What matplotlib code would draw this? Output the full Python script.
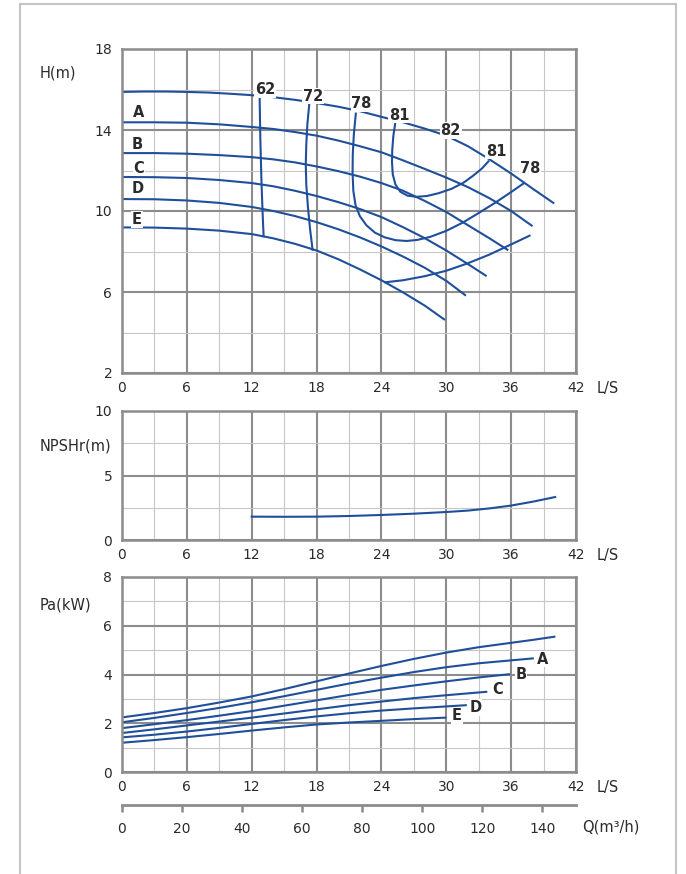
import numpy as np
import matplotlib
matplotlib.use("Agg")
import matplotlib.pyplot as plt
from matplotlib.lines import Line2D

# ---- data ----
# head curves, Q in L/s
q_top = [0, 2, 4, 6, 8, 10, 12, 14, 16, 18, 20, 22, 24, 26, 28, 30, 32, 34, 36, 38, 39.9]
h_top = [15.88, 15.9, 15.9, 15.88, 15.85, 15.79, 15.72, 15.62, 15.49, 15.33, 15.15, 14.93, 14.65,
         14.38, 14.07, 13.72, 13.2, 12.55, 11.85, 11.1, 10.4]
q_a = [0, 3, 6, 9, 12, 14, 16, 18, 20, 22, 24, 26, 28, 30, 32, 34, 36, 37.9]
h_a = [14.38, 14.38, 14.36, 14.28, 14.15, 14.05, 13.9, 13.72, 13.48, 13.2, 12.9, 12.5, 12.08,
       11.65, 11.18, 10.63, 10.0, 9.28]
q_b = [0, 3, 6, 9, 12, 14, 16, 18, 20, 22, 24, 26, 28, 30, 32, 34, 35.65]
h_b = [12.86, 12.86, 12.83, 12.76, 12.66, 12.55, 12.4, 12.2, 11.97, 11.7, 11.38, 11.0, 10.5,
       9.95, 9.3, 8.65, 8.09]
q_c = [0, 3, 6, 9, 12, 14, 16, 18, 20, 22, 24, 26, 28, 30, 32, 33.65]
h_c = [11.68, 11.67, 11.63, 11.53, 11.38, 11.22, 11.0, 10.74, 10.44, 10.1, 9.7, 9.2, 8.66,
       8.05, 7.38, 6.81]
q_d = [0, 3, 6, 9, 12, 14, 16, 18, 20, 22, 24, 26, 28, 30, 31.74]
h_d = [10.59, 10.58, 10.52, 10.4, 10.2, 10.0, 9.75, 9.45, 9.1, 8.7, 8.25, 7.75, 7.2, 6.55, 5.85]
q_e = [0, 3, 6, 9, 12, 14, 16, 18, 20, 22, 24, 26, 28, 29.8]
h_e = [9.19, 9.18, 9.13, 9.03, 8.86, 8.65, 8.38, 8.05, 7.62, 7.12, 6.58, 5.98, 5.33, 4.65]

head_names = ["A", "B", "C", "D", "E"]
head_q = [q_top, q_a, q_b, q_c, q_d, q_e]
head_h = [h_top, h_a, h_b, h_c, h_d, h_e]
head_lab_q = [1.54, 1.45, 1.54, 1.45, 1.39]
head_lab_h = [14.87, 13.3, 12.12, 11.1, 9.57]

# efficiency iso-curves
eff_q = [
    [12.73, 12.8, 12.9, 13.0, 13.1],
    [17.32, 17.15, 17.05, 17.0, 17.05, 17.2, 17.4, 17.63],
    [21.63, 21.45, 21.35, 21.33, 21.4, 21.6, 22.0, 22.6, 23.4, 24.3, 25.3, 26.3, 27.3, 28.5,
     30.0, 31.5, 33.0, 34.5, 35.9, 37.2],
    [25.27, 25.1, 25.0, 24.98, 25.05, 25.3, 25.75, 26.4, 27.2, 28.2, 29.3, 30.5, 31.6, 32.5,
     33.3, 33.9],
    [24.35, 26.0, 28.0, 30.0, 32.0, 34.0, 36.0, 37.7],
]
eff_h = [
    [15.65, 13.5, 11.5, 10.0, 8.75],
    [15.25, 14.3, 13.3, 12.3, 11.3, 10.2, 9.1, 8.09],
    [14.81, 13.8, 12.8, 11.9, 11.0, 10.3, 9.75, 9.3, 8.93, 8.7, 8.56, 8.52, 8.57, 8.72,
     9.02, 9.42, 9.9, 10.4, 10.9, 11.38],
    [14.31, 13.7, 13.0, 12.4, 11.8, 11.3, 10.95, 10.76, 10.7, 10.74, 10.88, 11.1, 11.4, 11.75,
     12.1, 12.45],
    [6.48, 6.58, 6.78, 7.05, 7.42, 7.85, 8.35, 8.78],
]
eff_labels = ["62", "72", "78", "81", "82", "81", "78"]
eff_lab_q = [13.23, 17.65, 22.17, 25.65, 30.4, 34.6, 37.75]
eff_lab_h = [16.0, 15.67, 15.29, 14.73, 13.97, 12.95, 12.12]

# NPSHr
q_npsh = [12, 15, 18, 21, 24, 27, 30, 32, 34, 36, 38, 40.07]
npsh = [1.81, 1.8, 1.81, 1.86, 1.94, 2.04, 2.17, 2.28, 2.45, 2.67, 2.97, 3.33]

# shaft power
pow_q = [
    [0, 3, 6, 9, 12, 15, 18, 21, 24, 27, 30, 33, 36, 38, 40],
    [0, 3, 6, 9, 12, 15, 18, 21, 24, 27, 30, 33, 36, 38],
    [0, 3, 6, 9, 12, 15, 18, 21, 24, 27, 30, 33, 35.8],
    [0, 3, 6, 9, 12, 15, 18, 21, 24, 27, 30, 33.7],
    [0, 3, 6, 9, 12, 15, 18, 21, 24, 27, 30, 31.8],
    [0, 3, 6, 9, 12, 15, 18, 21, 24, 27, 29.9],
]
pow_p = [
    [2.24, 2.42, 2.62, 2.85, 3.1, 3.4, 3.72, 4.04, 4.35, 4.64, 4.9, 5.12, 5.3, 5.42, 5.55],
    [2.04, 2.22, 2.42, 2.63, 2.86, 3.11, 3.37, 3.63, 3.87, 4.1, 4.3, 4.46, 4.58, 4.66],
    [1.8, 1.96, 2.13, 2.31, 2.5, 2.72, 2.94, 3.16, 3.37, 3.55, 3.72, 3.88, 4.01],
    [1.6, 1.75, 1.91, 2.07, 2.23, 2.4, 2.57, 2.74, 2.89, 3.03, 3.15, 3.29],
    [1.42, 1.53, 1.66, 1.81, 1.97, 2.13, 2.28, 2.41, 2.52, 2.61, 2.69, 2.74],
    [1.2, 1.31, 1.43, 1.56, 1.7, 1.83, 1.95, 2.03, 2.1, 2.17, 2.23],
]
pow_labels = ["A", "B", "C", "D", "E"]
pow_lab_q = [38.9, 36.9, 34.75, 32.7, 31.0]
pow_lab_p = [4.63, 4.01, 3.37, 2.64, 2.3]

q_m3h_ticks = [0, 20, 40, 60, 80, 100, 120, 140]

# ---- style ----
BLUE = "#1f4f9b"
TXT = "#2b2b2b"
MAJ = "#8c8c8c"
MIN = "#c6c6c6"
W, H = 686, 874

plt.rcParams["font.family"] = ["DejaVu Sans"]
plt.rcParams["font.size"] = 10

fig = plt.figure(figsize=(W / 100, H / 100), dpi=100)


def px_axes(l, t, r, b):
    return fig.add_axes([l / W, 1 - b / H, (r - l) / W, (b - t) / H])


def style(ax, ymaj, ymin, ls_y):
    ax.set_xlim(0, 42)
    ax.set_xticks(np.arange(0, 43, 6))
    ax.set_xticks(np.arange(3, 42, 6), minor=True)
    ax.set_yticks(ymaj)
    ax.set_yticks(ymin, minor=True)
    ax.set_ylim(ymaj[0], ymaj[-1])
    ax.grid(which="major", color=MAJ, lw=1.5)
    ax.grid(which="minor", color=MIN, lw=0.8)
    ax.set_axisbelow(True)
    for s in ax.spines.values():
        s.set_color(MAJ)
        s.set_linewidth(1.8)
    ax.tick_params(which="both", length=0, colors=TXT, labelsize=10)
    ax.tick_params(axis="x", pad=6)
    ax.tick_params(axis="y", pad=7)
    ax.text(1.045, ls_y, "L/S", transform=ax.transAxes, ha="left", va="top",
            color=TXT, fontsize=10.5)


def bold_label(ax, x, y, s):
    ax.text(x, y, s, ha="center", va="center", color=TXT, fontsize=10.5,
            fontweight="bold", bbox=dict(fc="white", ec="none", pad=0.5))


# head chart
ax1 = px_axes(122, 49, 576, 373)
style(ax1, [2, 6, 10, 14, 18], [4, 8, 12, 16], -0.025)
for q, h in zip(head_q, head_h):
    ax1.plot(q, h, color=BLUE, lw=1.5)
for q, h in zip(eff_q, eff_h):
    ax1.plot(q, h, color=BLUE, lw=1.5)
for name, q, h in zip(head_names, head_lab_q, head_lab_h):
    bold_label(ax1, q, h, name)
for name, q, h in zip(eff_labels, eff_lab_q, eff_lab_h):
    bold_label(ax1, q, h, name)

# NPSHr chart
ax2 = px_axes(122, 411, 576, 540)
style(ax2, [0, 5, 10], [2.5, 7.5], -0.06)
ax2.plot(q_npsh, npsh, color=BLUE, lw=1.5)

# power chart
ax3 = px_axes(122, 577, 576, 772)
style(ax3, [0, 2, 4, 6, 8], [1, 3, 5, 7], -0.04)
for q, p in zip(pow_q, pow_p):
    ax3.plot(q, p, color=BLUE, lw=1.5)
for name, q, p in zip(pow_labels, pow_lab_q, pow_lab_p):
    bold_label(ax3, q, p, name)

# m3/h scale
ax4 = px_axes(122, 804, 576, 805)
ax4.set_xlim(0, 42 * 3.6)
ax4.set_ylim(0, 1)
ax4.set_xticks(q_m3h_ticks)
ax4.set_yticks([])
for k in ["top", "left", "right"]:
    ax4.spines[k].set_visible(False)
ax4.spines["bottom"].set_color(MAJ)
ax4.spines["bottom"].set_linewidth(2)
ax4.patch.set_visible(False)
ax4.tick_params(axis="x", direction="out", length=5, width=1.8, color=MAJ,
                labelcolor=TXT, labelsize=10, pad=7)

# axis titles
fig.text(40 / W, 1 - 73 / H, "H(m)", ha="left", va="center", color=TXT, fontsize=10.5)
fig.text(40 / W, 1 - 446 / H, "NPSHr(m)", ha="left", va="center", color=TXT, fontsize=10.5)
fig.text(40 / W, 1 - 605 / H, "Pa(kW)", ha="left", va="center", color=TXT, fontsize=10.5)
fig.text(582 / W, 1 - 827 / H, "Q(m³/h)", ha="left", va="center", color=TXT, fontsize=10.5)

# light frame around the sheet
fc = "#c4c4c4"
fig.add_artist(Line2D([20 / W, 20 / W], [0, 1 - 4 / H], color=fc, lw=1.5))
fig.add_artist(Line2D([20 / W, 676 / W], [1 - 4 / H, 1 - 4 / H], color=fc, lw=1.5))
fig.add_artist(Line2D([676 / W, 676 / W], [0, 1 - 4 / H], color=fc, lw=1.5))

fig.savefig("out.png", dpi=100)
